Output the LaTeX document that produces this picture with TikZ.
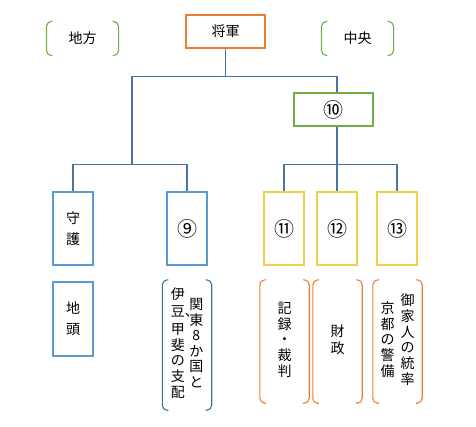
\documentclass[tikz,border=0pt]{standalone}
\usepackage{fontspec}
\setmainfont{Noto Sans CJK JP}
\usetikzlibrary{calc,positioning}
\definecolor{linkblue}{HTML}{4A74A8}
\definecolor{boxblue}{HTML}{5B9BD5}
\definecolor{darkblue}{HTML}{41719C}
\definecolor{boxgreen}{HTML}{70AD47}
\definecolor{boxorange}{HTML}{ED7D31}
\definecolor{boxyellow}{HTML}{F2CF4A}
\tikzstyle{wide} = [rectangle, minimum width=79pt, minimum height=33pt, inner sep=0pt, text centered, line width=1.1pt]
\tikzstyle{tall} = [rectangle, minimum width=40pt, minimum height=73pt, inner sep=0pt, align=center, line width=1.1pt]
\tikzstyle{bracket} = [rectangle, minimum width=49pt, minimum height=123pt, inner sep=0pt, font=\fontsize{14pt}{15pt}\selectfont]
\tikzstyle{link} = [draw=linkblue, line width=1.1pt]
\tikzstyle{num} = [font=\fontsize{20pt}{20pt}\selectfont]
\newcommand{\tate}[1]{\begin{tabular}[c]{@{}c@{}}#1\end{tabular}}

\begin{document}
\begin{tikzpicture}[font=\fontsize{14pt}{21pt}\selectfont]
            \useasboundingbox (0,0) rectangle (476pt,-426pt);
            % top row
            \node (Shogun) [wide, draw=boxorange] at (225.5pt,-31.5pt) {将軍};
            \node (Chiho) [wide, minimum width=71pt, left of=Shogun, node distance=143pt, yshift=-7pt] {地方};
            \node (Chuo) [wide, minimum width=71pt, right of=Shogun, node distance=132pt, yshift=-7pt] {中央};
            \node (Ten) [wide, num, draw=boxgreen, below of=Shogun, node distance=78pt, xshift=108pt] {⑩};
            % local side
            \node (Shugo) [tall, draw=boxblue, below of=Shogun, node distance=197pt, xshift=-152.5pt] {守\\護};
            \node (Nine) [tall, num, draw=boxblue, right of=Shugo, node distance=114pt] {⑨};
            \node (Jito) [tall, draw=boxblue, minimum height=74pt, below of=Shugo, node distance=90.5pt] {地\\頭};
            \node (Kanto) [bracket, minimum height=130pt, below of=Nine, node distance=116.5pt]
                {\tate{伊\\[2pt]\makebox[1em][l]{豆、}\\[2pt]甲\\斐\\の\\支\\配}\hspace{4.5pt}\tate{関\\東\\8\\か\\国\\と}\hspace{3pt}};
            % central side
            \node (Eleven) [tall, num, draw=boxyellow, below of=Ten, node distance=119pt, xshift=-49.5pt] {⑪};
            \node (Twelve) [tall, num, draw=boxyellow, right of=Eleven, node distance=53pt] {⑫};
            \node (Thirteen) [tall, num, draw=boxyellow, right of=Twelve, node distance=60pt] {⑬};
            \node (Kiroku) [bracket, below of=Eleven, node distance=113pt, xshift=0.5pt] {\tate{記\\録\\・\\裁\\判}};
            \node (Zaisei) [bracket, below of=Twelve, node distance=113pt, xshift=0.5pt] {\tate{財\\政}};
            \node (Gokenin) [bracket, below of=Thirteen, node distance=113pt, xshift=0.5pt]
                {\tate{京\\都\\の\\警\\備}\hspace{6pt}\tate{御\\家\\人\\の\\統\\率}};

            % brackets
            \foreach \n/\c in {Chiho/boxgreen, Chuo/boxgreen, Kanto/darkblue, Kiroku/boxorange, Zaisei/boxorange, Gokenin/boxorange}{
                \draw[\c, line width=1.1pt, rounded corners=5pt] ([xshift=6pt]\n.north west) -- (\n.north west) -- (\n.south west) -- ([xshift=6pt]\n.south west);
                \draw[\c, line width=1.1pt, rounded corners=5pt] ([xshift=-6pt]\n.north east) -- (\n.north east) -- (\n.south east) -- ([xshift=-6pt]\n.south east);
            }

            % connectors
            \draw[link] (Shogun.south) -- ++(0,-28pt) coordinate (TopJoin);
            \draw[link] (Shugo.north) |- ($(Shugo.north)!0.5!(Nine.north)+(2pt,27pt)$) coordinate (LeftJoin) -| (Nine.north);
            \draw[link] (LeftJoin) |- (TopJoin) -| ([xshift=3.5pt]Ten.north);
            \draw[link] ([xshift=3.5pt]Ten.south) -- (Twelve.north);
            \draw[link] (Eleven.north) |- ($(Twelve.north)+(0,27pt)$) -| (Thirteen.north);
        \end{tikzpicture}
\end{document}
